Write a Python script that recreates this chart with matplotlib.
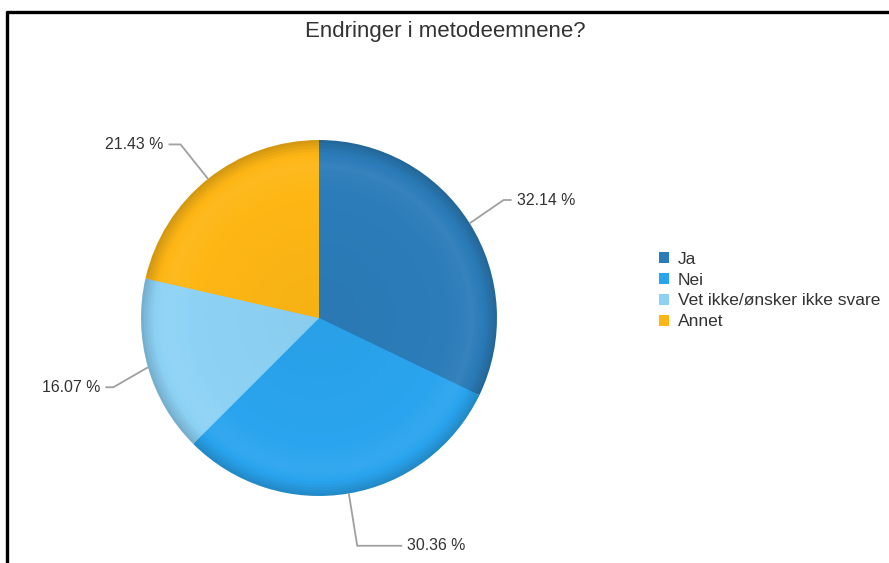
import numpy as np
import matplotlib

matplotlib.use("Agg")
import matplotlib.pyplot as plt
from matplotlib.colors import to_rgb
from matplotlib.patches import Patch

plt.rcParams["font.family"] = ["Liberation Sans", "DejaVu Sans"]

TITLE = "Endringer i metodeemnene?"
categories = ["Ja", "Nei", "Vet ikke/ønsker ikke svare", "Annet"]
shares = [32.14, 30.36, 16.07, 21.43]
colors = ["#2b7cb9", "#2aa4ee", "#8dd2f5", "#fdb614"]

# leader layout per slice: radial extension, horizontal run, label drop (px)
lead_out = [40, 50, 36, 44]
lead_run = [8, 45, 8, 12]
lead_drop = [-2, 3, 10, 0]

W, H = 889, 563
CX, CY, R = 319, H - 318, 178
TEXT = "#333333"


def shade(c, f):
    r = np.array(to_rgb(c))
    if f >= 0:
        return tuple(r + (1 - r) * f)
    return tuple(r * (1 + f))


def ring_factor(t):
    # t = radius fraction; darker rim, faint light band just inside it
    pts_t = [0.0, 0.72, 0.87, 0.94, 1.0]
    pts_f = [-0.03, 0.0, 0.05, -0.02, -0.16]
    return float(np.interp(t, pts_t, pts_f))


fig = plt.figure(figsize=(W / 100, H / 100), dpi=100)
ax = fig.add_axes([0, 0, 1, 1])

# shaded pie: concentric pies from the outside in
for t in np.linspace(1.0, 0.05, 60):
    ax.pie(shares, radius=R * t, center=(CX, CY), startangle=90,
           counterclock=False,
           colors=[shade(c, ring_factor(t)) for c in colors],
           wedgeprops={"linewidth": 0}, frame=True)

# data labels with connectors
cum = np.cumsum([0] + shares[:-1])
for i, (s, c0) in enumerate(zip(shares, cum)):
    ang = np.deg2rad(90 - (c0 + s / 2) * 3.6)
    dx, dy = np.cos(ang), np.sin(ang)
    p0 = (CX + R * dx, CY + R * dy)
    p1 = (CX + (R + lead_out[i]) * dx, CY + (R + lead_out[i]) * dy - lead_drop[i])
    side = 1 if dx >= 0 else -1
    p2 = (p1[0] + side * lead_run[i], p1[1])
    ax.plot([p0[0], p1[0], p2[0]], [p0[1], p1[1], p2[1]],
            color="#a0a0a0", lw=1.3, solid_capstyle="butt")
    ax.text(p2[0] + side * 5, p2[1], f"{s:.2f} %",
            ha="left" if side > 0 else "right", va="center",
            fontsize=11.4, color=TEXT)

ax.set_xlim(0, W)
ax.set_ylim(0, H)
ax.set_aspect("equal")
ax.axis("off")

ax.text(445, H - 32, TITLE, ha="center", va="center", fontsize=16, color=TEXT)

handles = [Patch(facecolor=c, edgecolor="none") for c in colors]
ax.legend(handles, categories, loc="upper left",
          bbox_to_anchor=(659, H - 252), bbox_transform=ax.transData,
          frameon=False, fontsize=12.5, handlelength=0.6, handleheight=0.6,
          handletextpad=0.5, labelspacing=0.33, borderpad=0, borderaxespad=0,
          labelcolor=TEXT)

# black frame (left and top edges visible)
ax.plot([7, 7], [0, H - 11], color="black", lw=2.4, solid_capstyle="butt")
ax.plot([6, W], [H - 12, H - 12], color="black", lw=2.4, solid_capstyle="butt")

fig.savefig("out.png", dpi=100)
